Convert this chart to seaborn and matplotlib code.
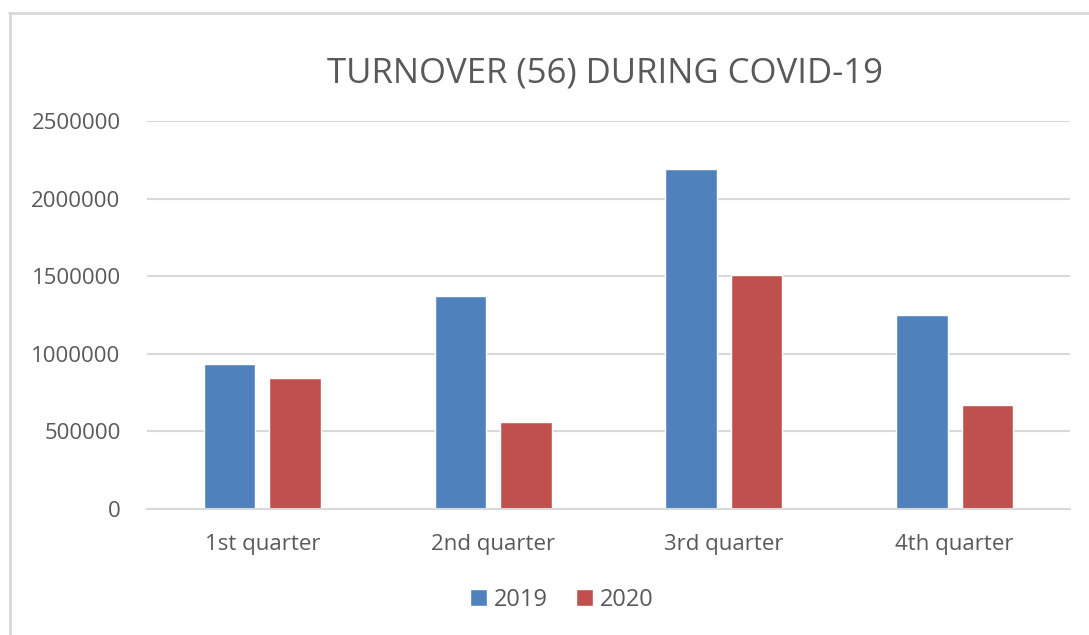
import pandas as pd
import matplotlib.pyplot as plt
import seaborn as sns
from matplotlib.lines import Line2D

# Data
quarters = ["1st quarter", "2nd quarter", "3rd quarter", "4th quarter"]
turnover_2019 = [937000, 1370000, 2190000, 1250000]
turnover_2020 = [845000, 559000, 1506000, 670000]
years = ["2019", "2020"]

df = pd.DataFrame({
    "Quarter": quarters * 2,
    "Year": [years[0]] * 4 + [years[1]] * 4,
    "Turnover": turnover_2019 + turnover_2020,
})

sns.set_style("white")
plt.rcParams["font.family"] = ["Open Sans", "DejaVu Sans"]
text_col = "#595959"
grid_col = "#D9D9D9"

fig = plt.figure(figsize=(10.89, 6.35), dpi=100)
ax = fig.add_axes([147 / 1089, 1 - 509 / 635, (1070 - 147) / 1089, (509 - 121) / 635])

sns.barplot(data=df, x="Quarter", y="Turnover", hue="Year",
            palette=["#4F81BD", "#C0504D"], saturation=1,
            width=0.567, gap=0.215, ax=ax, legend=True)

ax.set_ylim(0, 2500000)
ax.set_yticks([0, 500000, 1000000, 1500000, 2000000, 2500000])
ax.set_yticklabels(["0", "500000", "1000000", "1500000", "2000000", "2500000"])
ax.set_xlim(-0.5, 3.5)
ax.set_xlabel("")
ax.set_ylabel("")
ax.yaxis.grid(True, color=grid_col, linewidth=1.5)
ax.set_axisbelow(True)
for s in ["top", "right", "left"]:
    ax.spines[s].set_visible(False)
ax.spines["bottom"].set_color(grid_col)
ax.spines["bottom"].set_linewidth(1.5)
ax.tick_params(axis="y", length=0, pad=19, labelsize=16, labelcolor=text_col)
ax.tick_params(axis="x", length=0, pad=18, labelsize=16, labelcolor=text_col)

fig.text(605 / 1089, 1 - 73 / 635, "TURNOVER (56) DURING COVID-19",
         ha="center", va="center", fontsize=25, color=text_col)

leg = ax.legend(loc="center", bbox_to_anchor=(562 / 1089, 1 - 600 / 635),
                bbox_transform=fig.transFigure, ncol=2, frameon=False,
                fontsize=17, handlelength=0.7, handleheight=0.7,
                handletextpad=0.3, columnspacing=1.2)
for t in leg.get_texts():
    t.set_color(text_col)

# chart frame
fig.add_artist(Line2D([9 / 1089, 1], [1 - 13 / 635] * 2, transform=fig.transFigure,
                      color=grid_col, linewidth=2))
fig.add_artist(Line2D([10 / 1089] * 2, [0, 1 - 13 / 635], transform=fig.transFigure,
                      color=grid_col, linewidth=2))

fig.savefig("out.png", dpi=100, facecolor="white")
